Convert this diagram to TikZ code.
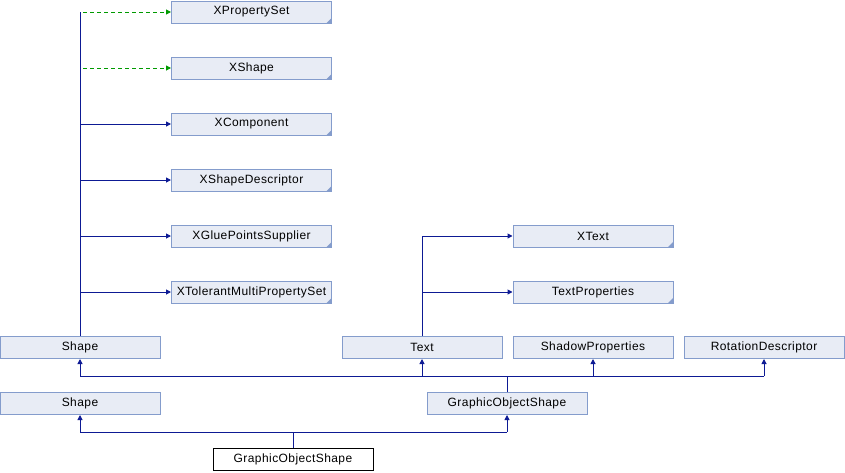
\documentclass[tikz,border=0pt]{standalone}
\usepackage{fontspec}
\setmainfont[LetterSpace=3.5]{Liberation Sans}
\usepackage{xcolor}
\usetikzlibrary{arrows.meta}
\definecolor{vnavy}{HTML}{0D1A94}
\definecolor{vgreen}{HTML}{009A00}
\definecolor{vboxline}{HTML}{849CCC}
\definecolor{vboxfill}{HTML}{E8ECF5}

\tikzset{
	cls/.style={draw=vboxline, fill=vboxfill, line width=1pt, minimum width=160pt, minimum height=22pt, inner sep=0pt, font=\fontsize{12}{14}\selectfont},
	iface/.style={cls, path picture={\fill[vboxline] (path picture bounding box.south east) -- ++(-5,0) -- ++(5,-5) -- cycle;}},
	leaf/.style={cls, draw=black, fill=white},
	inh/.style={color=vnavy, line width=1pt},
	inharrow/.style={inh, -{Triangle[length=5pt, width=5pt]}},
	usesarrow/.style={color=vgreen, line width=1pt, dash pattern=on 4pt off 3pt, -{Triangle[length=5pt, width=5pt]}}
}

\begin{document}
\begin{tikzpicture}[x=1pt, y=-1pt]
		\useasboundingbox (0,0) rectangle (845,472);
		\node[iface] (XPS)	 at (251.5,12) {XPropertySet};
		\node[iface] (XSh)	 at (251.5,68) {XShape};
		\node[iface] (XComp)	 at (251.5,124) {XComponent};
		\node[iface] (XSD)	 at (251.5,180) {XShapeDescriptor};
		\node[iface] (XGPS)	 at (251.5,236) {XGluePointsSupplier};
		\node[iface] (XTMPS)	 at (251.5,292) {XTolerantMultiPropertySet};
		\node[iface] (XText)	 at (593,236) {XText};
		\node[iface] (TextP)	 at (593,292) {TextProperties};
		\node[cls] (Shape1)	 at (80,347.5) {Shape};
		\node[cls] (Text)	 at (422,347.5) {Text};
		\node[cls] (ShadowP)	 at (593,347.5) {ShadowProperties};
		\node[cls] (RotD)	 at (764,347.5) {RotationDescriptor};
		\node[cls] (Shape2)	 at (80,403.5) {Shape};
		\node[cls] (GOS1)	 at (507,403.5) {GraphicObjectShape};
		\node[leaf] (GOS)	 at (293,459.5) {GraphicObjectShape};
		\coordinate (B1)	 at (507,376);
		\coordinate (B2)	 at (293,432);
		\draw[inh] (Shape1.north) -- (Shape1.north |- XPS.west);
		\draw[usesarrow] ([xshift=3pt]Shape1.north |- XPS.west) -- (XPS.west);
		\draw[usesarrow] ([xshift=3pt]Shape1.north |- XSh.west) -- (XSh.west);
		\draw[inharrow] (Shape1.north |- XComp.west) -- (XComp.west);
		\draw[inharrow] (Shape1.north |- XSD.west) -- (XSD.west);
		\draw[inharrow] (Shape1.north |- XGPS.west) -- (XGPS.west);
		\draw[inharrow] (Shape1.north |- XTMPS.west) -- (XTMPS.west);
		\draw[inh] (Text.north) -- (Text.north |- XText.west);
		\draw[inharrow] (Text.north |- XText.west) -- (XText.west);
		\draw[inharrow] (Text.north |- TextP.west) -- (TextP.west);
		\draw[inh] (GOS1.north) -- (B1);
		\draw[inh] (Shape1.south |- B1) -- (RotD.south |- B1);
		\draw[inharrow] (Shape1.south |- B1) -- (Shape1.south);
		\draw[inharrow] (Text.south |- B1) -- (Text.south);
		\draw[inharrow] (ShadowP.south |- B1) -- (ShadowP.south);
		\draw[inharrow] (RotD.south |- B1) -- (RotD.south);
		\draw[inh] (GOS.north) -- (B2);
		\draw[inh] (Shape2.south |- B2) -- (GOS1.south |- B2);
		\draw[inharrow] (Shape2.south |- B2) -- (Shape2.south);
		\draw[inharrow] (GOS1.south |- B2) -- (GOS1.south);
	\end{tikzpicture}
\end{document}
